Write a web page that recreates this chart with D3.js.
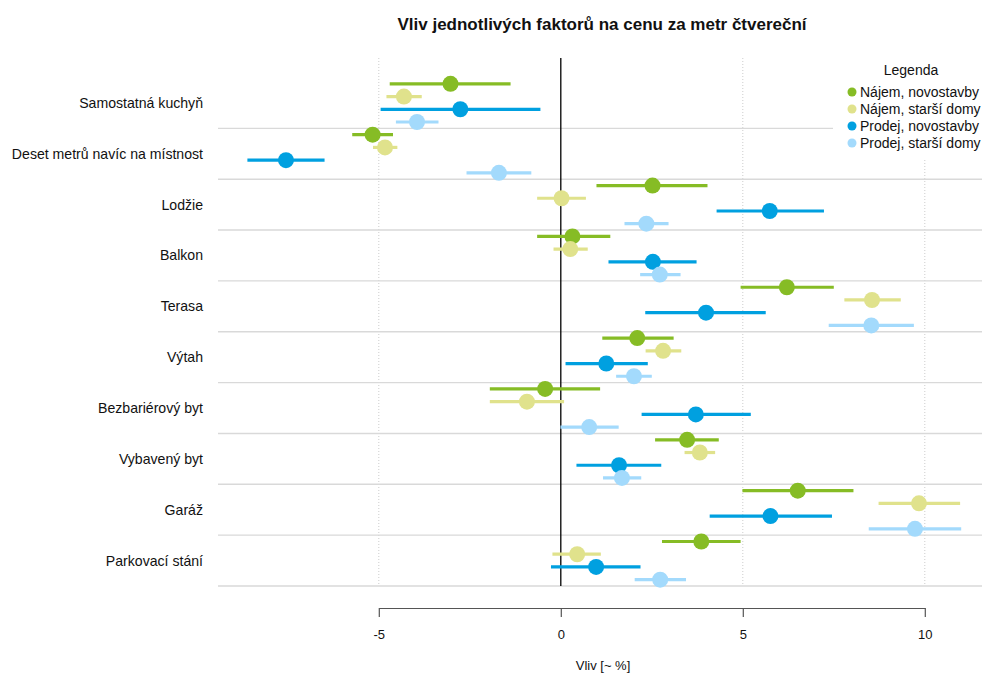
<!DOCTYPE html>
<html><head><meta charset="utf-8">
<script src="https://cdn.jsdelivr.net/npm/d3@7"></script>
<style>body{margin:0;background:#fff;}svg{display:block;font-family:"Liberation Sans",Arial,sans-serif;}</style>
</head><body>
<svg id="c" width="982" height="674"></svg>
<script>
const categories = ["Samostatná kuchyň","Deset metrů navíc na místnost","Lodžie","Balkon","Terasa","Výtah","Bezbariérový byt","Vybavený byt","Garáž","Parkovací stání"];
const seriesNames = ["Nájem, novostavby","Nájem, starší domy","Prodej, novostavby","Prodej, starší domy"];
const seriesColors = ["#86bc25","#e0e28c","#00a0e0","#a3dafc"];
// estimates, lower, upper per series (order of categories)
const najemNovEst = [-3.03,-5.17,2.52,0.32,6.21,2.10,-0.43,3.47,6.51,3.86];
const najemNovLo  = [-4.70,-5.73,0.98,-0.65,4.94,1.14,-1.95,2.59,4.99,2.78];
const najemNovHi  = [-1.38,-4.61,4.03,1.36,7.50,3.10,1.08,4.34,8.04,4.94];
const najemStaEst = [-4.31,-4.83,0.02,0.26,8.55,2.81,-0.93,3.82,9.84,0.45];
const najemStaLo  = [-4.79,-5.16,-0.65,-0.20,7.79,2.33,-1.95,3.40,8.73,-0.23];
const najemStaHi  = [-3.82,-4.49,0.69,0.74,9.34,3.31,0.09,4.24,10.97,1.10];
const prodejNovEst = [-2.76,-7.55,5.74,2.53,3.99,1.25,3.71,1.60,5.76,0.97];
const prodejNovLo  = [-4.95,-8.61,4.28,1.31,2.32,0.13,2.22,0.43,4.09,-0.27];
const prodejNovHi  = [-0.56,-6.49,7.23,3.73,5.63,2.39,5.22,2.76,7.45,2.19];
const prodejStaEst = [-3.95,-1.70,2.35,2.72,8.53,2.01,0.78,1.68,9.73,2.73];
const prodejStaLo  = [-4.53,-2.59,1.75,2.18,7.36,1.52,-0.01,1.16,8.46,2.03];
const prodejStaHi  = [-3.36,-0.81,2.96,3.29,9.70,2.50,1.59,2.21,11.00,3.44];
const xTicks = [-5,0,5,10];
const titleText = "Vliv jednotlivých faktorů na cenu za metr čtvereční";
const xTitle = "Vliv [~ %]";
const legendTitle = "Legenda";

const series = [
  {est:najemNovEst, lo:najemNovLo, hi:najemNovHi},
  {est:najemStaEst, lo:najemStaLo, hi:najemStaHi},
  {est:prodejNovEst, lo:prodejNovLo, hi:prodejNovHi},
  {est:prodejStaEst, lo:prodejStaLo, hi:prodejStaHi}
].map((s,i)=>({...s, name:seriesNames[i], color:seriesColors[i], idx:i}));

const svg = d3.select("#c");
const x = d3.scaleLinear().domain([-5,10]).range([378.8,924.8]);
const y = d3.scaleBand().domain(categories).range([77.5,586]).padding(0);
const dodge = d3.scaleBand().domain(d3.range(4)).range([0,y.bandwidth()]).padding(0);
const panelTop = 58, panelBottom = 586, panelLeft = 218, panelRight = 982;

// vertical dotted gridlines
svg.append("g").selectAll("line").data(xTicks.filter(d=>d!==0)).join("line")
  .attr("x1",d=>x(d)).attr("x2",d=>x(d)).attr("y1",panelTop).attr("y2",panelBottom)
  .attr("stroke","#cccccc").attr("stroke-width",1).attr("stroke-dasharray","1,2");
// horizontal gridlines at band bottoms
svg.append("g").selectAll("line").data(categories).join("line")
  .attr("x1",panelLeft).attr("x2",panelRight)
  .attr("y1",d=>y(d)+y.bandwidth()).attr("y2",d=>y(d)+y.bandwidth())
  .attr("stroke","#d9d9d9").attr("stroke-width",1.4);
// zero line
svg.append("line").attr("x1",x(0)).attr("x2",x(0)).attr("y1",panelTop).attr("y2",panelBottom)
  .attr("stroke","#000").attr("stroke-width",1.3);

// category labels
svg.append("g").selectAll("text").data(categories).join("text")
  .attr("x",203).attr("y",d=>y(d)+y.bandwidth()/2).attr("dy","0.35em")
  .attr("text-anchor","end").attr("font-size",14.1).attr("fill","#111").text(d=>d);

// legend background
svg.append("rect").attr("x",833).attr("y",panelTop-2).attr("width",149).attr("height",104).attr("fill","#fff");

// series
series.forEach(s=>{
  const g = svg.append("g");
  const rows = categories.map((c,j)=>({c, est:s.est[j], lo:s.lo[j], hi:s.hi[j]}));
  const cy = d=>y(d.c)+dodge(s.idx)+dodge.bandwidth()/2;
  g.selectAll("line").data(rows).join("line")
    .attr("x1",d=>x(d.lo)).attr("x2",d=>x(d.hi)).attr("y1",cy).attr("y2",cy)
    .attr("stroke",s.color).attr("stroke-width",3.2);
  g.selectAll("circle").data(rows).join("circle")
    .attr("cx",d=>x(d.est)).attr("cy",cy).attr("r",8).attr("fill",s.color);
});

// x axis
const ax = svg.append("g").attr("transform","translate(0,608)")
  .call(d3.axisBottom(x).tickValues(xTicks).tickSize(9).tickSizeOuter(0).tickPadding(13).tickFormat(d=>String(d)));
ax.select(".domain").attr("stroke","#555").attr("stroke-width",1.2);
ax.selectAll(".tick line").attr("stroke","#555").attr("stroke-width",1.2);
ax.selectAll(".tick text").attr("font-size",13).attr("fill","#111").attr("font-family","Liberation Sans, Arial, sans-serif");

// titles
svg.append("text").attr("x",602).attr("y",30).attr("text-anchor","middle")
  .attr("font-size",17).attr("font-weight","bold").attr("fill","#111").text(titleText);
svg.append("text").attr("x",603).attr("y",669.5).attr("text-anchor","middle")
  .attr("font-size",13).attr("fill","#111").text(xTitle);

// legend
svg.append("text").attr("x",911).attr("y",75).attr("text-anchor","middle")
  .attr("font-size",14).attr("fill","#111").text(legendTitle);
const lg = svg.append("g").selectAll("g").data(series).join("g")
  .attr("transform",(d,i)=>`translate(852,${92+i*17})`);
lg.append("circle").attr("r",4.5).attr("fill",d=>d.color);
lg.append("text").attr("x",8).attr("dy","0.35em").attr("font-size",14).attr("fill","#111").text(d=>d.name);
</script>
</body></html>
